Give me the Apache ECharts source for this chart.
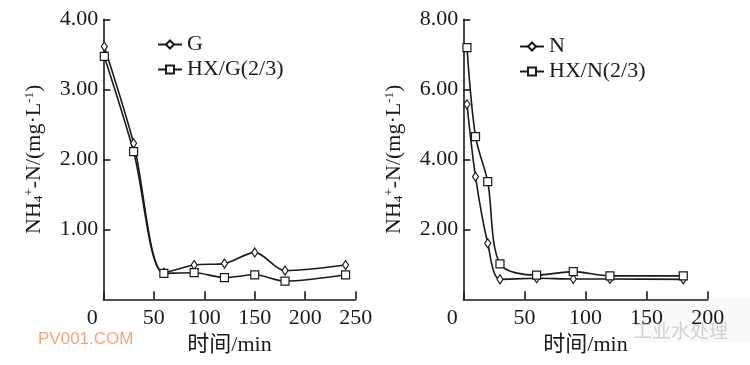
<!DOCTYPE html>
<html>
<head>
<meta charset="utf-8">
<script src="https://cdn.jsdelivr.net/npm/echarts@6/dist/echarts.min.js"></script>
<style>html,body{margin:0;padding:0;background:#fff;}#c{width:750px;height:365px;}</style>
</head>
<body>
<div id="c"></div>
<script>
// Left panel (G)
var timesLeft = [1, 30, 60, 90, 120, 150, 180, 240];
var valuesG = [3.61, 2.23, 0.38, 0.49, 0.51, 0.67, 0.41, 0.49];
var valuesHXG = [3.47, 2.11, 0.37, 0.38, 0.31, 0.35, 0.26, 0.35];
// Right panel (N)
var timesRight = [3, 10, 20, 30, 60, 90, 120, 180];
var valuesN = [5.57, 3.50, 1.60, 0.57, 0.60, 0.58, 0.58, 0.57];
var valuesHXN = [7.19, 4.65, 3.36, 1.01, 0.69, 0.79, 0.67, 0.67];
var seriesNames = ['G', 'HX/G(2/3)', 'N', 'HX/N(2/3)'];
var yLabelLeft = [1, 2, 3, 4];
var yLabelRight = [2, 4, 6, 8];

function pairs(xs, ys) { return xs.map(function (x, i) { return [x, ys[i]]; }); }

var FONT = "'Liberation Serif', 'Noto Sans CJK SC', serif";
var INK = '#1a1a1a';

function xAxisCfg(idx, max) {
  return {
    type: 'value', gridIndex: idx, min: 0, max: max, interval: 50,
    name: '时间/min', nameLocation: 'middle', nameGap: 33,
    nameTextStyle: { fontFamily: FONT, fontSize: 22, color: INK },
    axisLine: { lineStyle: { color: INK, width: 1.6 } },
    axisTick: { inside: true, length: 8, lineStyle: { color: INK, width: 1.6 } },
    splitLine: { show: false },
    axisLabel: {
      margin: 8, fontFamily: FONT, fontSize: 22, color: INK,
      formatter: function (v) { return v === 0 ? '{z|0}' : String(v); },
      rich: { z: { fontFamily: FONT, fontSize: 22, color: INK, padding: [0, 22, 0, 0] } }
    }
  };
}
function yAxisCfg(idx, max, interval) {
  return {
    type: 'value', gridIndex: idx, min: 0, max: max, interval: interval,
    name: 'NH{sub|4}{sup|+}-N/(mg·L{sup|-1})', nameLocation: 'middle', nameRotate: 90, nameGap: 58,
    nameTextStyle: {
      fontFamily: FONT, fontSize: 22, color: INK,
      rich: {
        sub: { fontFamily: FONT, fontSize: 13, color: INK, verticalAlign: 'bottom', lineHeight: 12 },
        sup: { fontFamily: FONT, fontSize: 13, color: INK, verticalAlign: 'top', lineHeight: 12 }
      }
    },
    axisLine: { show: true, lineStyle: { color: INK, width: 1.6 } },
    axisTick: { show: true, inside: true, length: 7, lineStyle: { color: INK, width: 1.6 } },
    splitLine: { show: false },
    axisLabel: {
      margin: 5, fontFamily: FONT, fontSize: 22, color: INK, showMinLabel: false,
      formatter: function (v) { return v === 0 ? '' : v.toFixed(2); }
    }
  };
}
function lineSeries(name, xi, data, symbol, size) {
  return {
    name: name, type: 'line', xAxisIndex: xi, yAxisIndex: xi, data: data,
    smooth: 0.3, symbol: symbol, symbolSize: size, showSymbol: true,
    lineStyle: { color: INK, width: 1.6 },
    itemStyle: { color: '#fff', borderColor: INK, borderWidth: 1.2 },
    emphasis: { disabled: true }, animation: false
  };
}
function legendCfg(names, left, top) {
  return {
    data: names, orient: 'vertical', left: left, top: top, padding: 0,
    itemWidth: 24, itemHeight: 10, itemGap: 0,
    textStyle: { fontFamily: FONT, fontSize: 22, color: INK, lineHeight: 25 },
    selectedMode: false
  };
}

var chart = echarts.init(document.getElementById('c'), null, { renderer: 'canvas' });
chart.setOption({
  backgroundColor: '#fff',
  animation: false,
  grid: [
    { left: 103.3, top: 19.3, width: 252.4, height: 280 },
    { left: 463.3, top: 19.3, width: 244.4, height: 280 }
  ],
  xAxis: [xAxisCfg(0, 250), xAxisCfg(1, 200)],
  yAxis: [yAxisCfg(0, 4, 1), yAxisCfg(1, 8, 2)],
  legend: [legendCfg([seriesNames[0], seriesNames[1]], 157, 32), legendCfg([seriesNames[2], seriesNames[3]], 519, 34)],
  series: [
    lineSeries(seriesNames[0], 0, pairs(timesLeft, valuesG), 'diamond', [6, 9]),
    lineSeries(seriesNames[1], 0, pairs(timesLeft, valuesHXG), 'rect', 8),
    lineSeries(seriesNames[2], 1, pairs(timesRight, valuesN), 'diamond', [6, 9]),
    lineSeries(seriesNames[3], 1, pairs(timesRight, valuesHXN), 'rect', 8)
  ],
  graphic: [
    { type: 'text', left: 38, top: 331, style: { text: 'PV001.COM', fill: '#f2a676', font: "17px 'Liberation Sans', sans-serif" } },
    { type: 'rect', left: 640, top: 298, shape: { width: 110, height: 44 }, style: { fill: 'rgba(240,240,240,0.3)' }, silent: true },
    { type: 'text', left: 633, top: 321, style: { text: '工业水处理', fill: '#d2d2d2', font: "19px 'Noto Sans CJK SC', sans-serif" } }
  ]
});
</script>
</body>
</html>
